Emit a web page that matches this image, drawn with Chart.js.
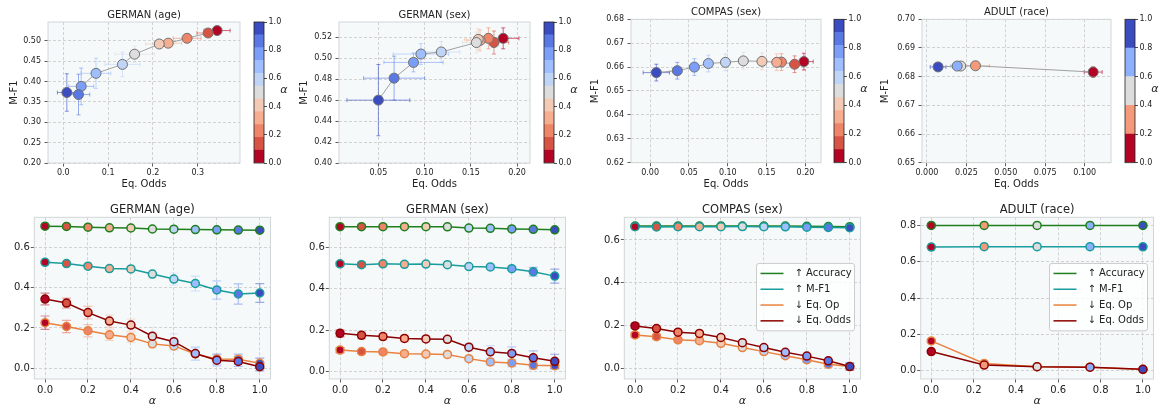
<!DOCTYPE html>
<html>
<head>
<meta charset="utf-8">
<script src="https://cdn.jsdelivr.net/npm/chart.js@4.4.1/dist/chart.umd.min.js"></script>
<style>
  body { margin: 0; background: #fff; width: 1159px; height: 408px; overflow: hidden; position: relative; }
  canvas { position: absolute; }
</style>
</head>
<body>
<script>
// alpha grids
const alpha11 = [0, 0.1, 0.2, 0.3, 0.4, 0.5, 0.6, 0.7, 0.8, 0.9, 1.0];
const alpha5 = [0, 0.25, 0.5, 0.75, 1.0];

// GERMAN (age)
const germanAgeAcc = [0.704, 0.703, 0.699, 0.696, 0.695, 0.690, 0.689, 0.687, 0.686, 0.685, 0.684];
const germanAgeMf1 = [0.525, 0.519, 0.506, 0.494, 0.492, 0.467, 0.442, 0.420, 0.388, 0.368, 0.373];
const germanAgeEqOp = [0.226, 0.207, 0.186, 0.166, 0.153, 0.121, 0.111, 0.071, 0.046, 0.045, 0.025];
const germanAgeEqOdds = [0.343, 0.323, 0.276, 0.234, 0.214, 0.159, 0.132, 0.073, 0.040, 0.034, 0.008];
const germanAgeAccErr = [0.006, 0.006, 0.006, 0.006, 0.006, 0.006, 0.006, 0.006, 0.006, 0.006, 0.006];
const germanAgeMf1Err = [0.005, 0.007, 0.008, 0.008, 0.010, 0.020, 0.030, 0.037, 0.045, 0.050, 0.046];
const germanAgeEqOpErr = [0.033, 0.030, 0.030, 0.028, 0.025, 0.020, 0.020, 0.030, 0.025, 0.025, 0.025];
const germanAgeEqOddsErr = [0.029, 0.025, 0.031, 0.030, 0.030, 0.044, 0.039, 0.033, 0.028, 0.025, 0.021];

// GERMAN (sex)
const germanSexAcc = [0.698, 0.698, 0.698, 0.698, 0.698, 0.697, 0.691, 0.690, 0.687, 0.685, 0.683];
const germanSexMf1 = [0.519, 0.515, 0.519, 0.517, 0.518, 0.515, 0.506, 0.504, 0.496, 0.481, 0.460];
const germanSexEqOp = [0.104, 0.097, 0.095, 0.087, 0.085, 0.083, 0.063, 0.047, 0.042, 0.031, 0.029];
const germanSexEqOdds = [0.185, 0.175, 0.169, 0.160, 0.158, 0.156, 0.118, 0.096, 0.088, 0.067, 0.050];
const germanSexAccErr = [0.006, 0.006, 0.006, 0.006, 0.006, 0.006, 0.006, 0.006, 0.006, 0.006, 0.006];
const germanSexMf1Err = [0.010, 0.011, 0.010, 0.010, 0.010, 0.010, 0.010, 0.010, 0.009, 0.021, 0.034];
const germanSexEqOpErr = [0.012, 0.010, 0.010, 0.010, 0.010, 0.010, 0.012, 0.015, 0.018, 0.018, 0.015];
const germanSexEqOddsErr = [0.017, 0.016, 0.015, 0.015, 0.015, 0.015, 0.020, 0.030, 0.032, 0.033, 0.034];

// COMPAS (sex)
const compasAcc = [0.665, 0.665, 0.665, 0.665, 0.665, 0.665, 0.665, 0.665, 0.664, 0.663, 0.662];
const compasMf1 = [0.6623, 0.6612, 0.6621, 0.6620, 0.6624, 0.6626, 0.6620, 0.6615, 0.6600, 0.6585, 0.6577];
const compasEqOp = [0.156, 0.148, 0.133, 0.129, 0.117, 0.097, 0.078, 0.059, 0.040, 0.019, 0.008];
const compasEqOdds = [0.198, 0.186, 0.169, 0.163, 0.144, 0.120, 0.097, 0.075, 0.057, 0.035, 0.008];
const compasAccErr = [0.004, 0.004, 0.004, 0.004, 0.004, 0.004, 0.004, 0.004, 0.004, 0.004, 0.004];
const compasMf1Err = [0.0035, 0.0035, 0.0035, 0.0035, 0.0035, 0.0035, 0.0035, 0.0035, 0.0035, 0.0035, 0.0035];
const compasEqOpErr = [0.010, 0.012, 0.010, 0.010, 0.010, 0.010, 0.010, 0.010, 0.012, 0.012, 0.015];
const compasEqOddsErr = [0.012, 0.006, 0.006, 0.006, 0.006, 0.006, 0.006, 0.006, 0.006, 0.006, 0.017];

// ADULT (race)
const adultAcc = [0.801, 0.801, 0.801, 0.801, 0.801];
const adultMf1 = [0.6816, 0.6838, 0.6837, 0.6837, 0.6834];
const adultEqOp = [0.164, 0.040, 0.022, 0.019, 0.007];
const adultEqOdds = [0.1054, 0.0308, 0.0215, 0.0192, 0.0071];
const adultAccErr = [0.002, 0.002, 0.002, 0.002, 0.002];
const adultMf1Err = [0.0018, 0.0012, 0.0012, 0.0012, 0.0012];
const adultEqOpErr = [0.008, 0.006, 0.004, 0.004, 0.003];
const adultEqOddsErr = [0.0057, 0.009, 0.004, 0.004, 0.005];

// tick labels
const germanAgeXTicks = [0.0, 0.1, 0.2, 0.3];
const germanAgeYTicks = [0.20, 0.25, 0.30, 0.35, 0.40, 0.45, 0.50];
const germanSexXTicks = [0.05, 0.10, 0.15, 0.20];
const germanSexYTicks = [0.40, 0.42, 0.44, 0.46, 0.48, 0.50, 0.52];
const compasXTicks = [0.00, 0.05, 0.10, 0.15, 0.20];
const compasYTicks = [0.62, 0.63, 0.64, 0.65, 0.66, 0.67, 0.68];
const adultXTicks = [0.000, 0.025, 0.050, 0.075, 0.100];
const adultYTicks = [0.65, 0.66, 0.67, 0.68, 0.69, 0.70];
const alphaTicks = [0.0, 0.2, 0.4, 0.6, 0.8, 1.0];
const lowerYTicks = [0.0, 0.2, 0.4, 0.6];
const adultLowerYTicks = [0.0, 0.2, 0.4, 0.6, 0.8];

const seriesLabels = ["↑ Accuracy", "↑ M-F1", "↓ Eq. Op", "↓ Eq. Odds"];
const seriesColors = ["#1f7f1f", "#189c9c", "#e8823e", "#8b0000"];

// coolwarm_r sampled at the alpha values
const colors11 = ["#b40426", "#d75344", "#ee8568", "#f7ad8f", "#f2cab6", "#dddddd",
  "#c0d4f5", "#9fbeff", "#7b9ef9", "#5978e3", "#3b4cc0"];
const colors5 = ["#b40426", "#f49a7b", "#dddddd", "#8db0fe", "#3b4cc0"];

Chart.defaults.font.family = "'DejaVu Sans', sans-serif";
Chart.defaults.color = "#222";

function rgba(hex, a) {
  const n = parseInt(hex.slice(1), 16);
  return "rgba(" + ((n >> 16) & 255) + "," + ((n >> 8) & 255) + "," + (n & 255) + "," + a + ")";
}

// background, frame, title, error bars, legend, colorbar label
const decor = {
  id: "decor",
  beforeDraw(chart, args, opts) {
    if (!opts.bg) return;
    const a = chart.chartArea;
    chart.ctx.save();
    chart.ctx.fillStyle = opts.bg;
    chart.ctx.fillRect(a.left, a.top, a.width, a.height);
    chart.ctx.restore();
  },
  beforeDatasetsDraw(chart) {
    const ctx = chart.ctx, a = chart.chartArea;
    const xs = chart.scales.x, ys = chart.scales.y;
    ctx.save();
    ctx.beginPath();
    ctx.rect(a.left, a.top, a.width, a.height);
    ctx.clip();
    chart.data.datasets.forEach((ds, di) => {
      if (!ds.errColors) return;
      const meta = chart.getDatasetMeta(di);
      const cap = ds.cap;
      meta.data.forEach((pt, j) => {
        const d = ds.data[j];
        ctx.strokeStyle = ds.errColors[j];
        ctx.lineWidth = ds.errWidth;
        ctx.beginPath();
        if (ds.yErr) {
          const y1 = ys.getPixelForValue(d.y - ds.yErr[j]);
          const y2 = ys.getPixelForValue(d.y + ds.yErr[j]);
          ctx.moveTo(pt.x, y1); ctx.lineTo(pt.x, y2);
          ctx.moveTo(pt.x - cap, y1); ctx.lineTo(pt.x + cap, y1);
          ctx.moveTo(pt.x - cap, y2); ctx.lineTo(pt.x + cap, y2);
        }
        if (ds.xErr) {
          const x1 = xs.getPixelForValue(d.x - ds.xErr[j]);
          const x2 = xs.getPixelForValue(d.x + ds.xErr[j]);
          ctx.moveTo(x1, pt.y); ctx.lineTo(x2, pt.y);
          ctx.moveTo(x1, pt.y - cap); ctx.lineTo(x1, pt.y + cap);
          ctx.moveTo(x2, pt.y - cap); ctx.lineTo(x2, pt.y + cap);
        }
        ctx.stroke();
      });
    });
    ctx.restore();
  },
  afterDraw(chart, args, opts) {
    const ctx = chart.ctx, a = chart.chartArea;
    ctx.save();
    if (opts.frame) {
      ctx.strokeStyle = opts.frame;
      ctx.lineWidth = opts.frameWidth || 1;
      ctx.strokeRect(a.left, a.top, a.width, a.height);
    }
    if (opts.title) {
      ctx.fillStyle = "#222";
      ctx.font = opts.titleSize + "px 'DejaVu Sans'";
      ctx.textAlign = "center";
      ctx.textBaseline = "middle";
      ctx.fillText(opts.title, (a.left + a.right) / 2, opts.titleY);
    }
    if (opts.cbLabel) {
      ctx.fillStyle = "#222";
      ctx.font = "italic 11px 'DejaVu Sans'";
      ctx.textAlign = "center";
      ctx.textBaseline = "middle";
      ctx.fillText(opts.cbLabel, a.right + 20, (a.top + a.bottom) / 2 - 2);
    }
    if (opts.legend) {
      const bw = 98, bh = 67.4, r = 2.5;
      const bx = a.right - 6 - bw, by = (a.top + a.bottom) / 2 - bh / 2 - 1;
      ctx.beginPath();
      ctx.moveTo(bx + r, by);
      ctx.arcTo(bx + bw, by, bx + bw, by + bh, r);
      ctx.arcTo(bx + bw, by + bh, bx, by + bh, r);
      ctx.arcTo(bx, by + bh, bx, by, r);
      ctx.arcTo(bx, by, bx + bw, by, r);
      ctx.closePath();
      ctx.fillStyle = "rgba(255,255,255,0.8)";
      ctx.fill();
      ctx.strokeStyle = "#cccccc";
      ctx.lineWidth = 1;
      ctx.stroke();
      ctx.font = "10px 'DejaVu Sans'";
      ctx.textAlign = "left";
      ctx.textBaseline = "middle";
      opts.legend.forEach((label, i) => {
        const y = by + 10 + i * 15.8;
        ctx.strokeStyle = seriesColors[i];
        ctx.lineWidth = 1.5;
        ctx.beginPath();
        ctx.moveTo(bx + 4, y);
        ctx.lineTo(bx + 27, y);
        ctx.stroke();
        ctx.fillStyle = "#222";
        ctx.fillText(label, bx + 38, y);
      });
    }
    ctx.restore();
  },
};
Chart.register(decor);

function makeCanvas(L, T, W, H) {
  const c = document.createElement("canvas");
  c.width = W;
  c.height = H;
  c.style.left = L + "px";
  c.style.top = T + "px";
  c.style.width = W + "px";
  c.style.height = H + "px";
  document.body.appendChild(c);
  return c;
}

function linAxis(min, max, ticks, dec, size, pad, fixed, title) {
  return {
    type: "linear",
    min: min,
    max: max,
    afterBuildTicks: (s) => { s.ticks = ticks.map((v) => ({ value: v })); },
    afterFit: (s) => { if (s.isHorizontal()) s.height = fixed; else s.width = fixed; },
    ticks: { font: { size: size }, padding: pad, color: "#222", autoSkip: false, maxRotation: 0,
      callback: (v) => Number(v).toFixed(dec) },
    grid: { color: "#c8c8c8", lineWidth: 0.8, drawTicks: true, tickLength: 3.5,
      tickColor: "#333", tickWidth: 0.8, tickBorderDash: [] },
    border: { display: false, dash: [3, 2] },
    title: title,
  };
}

function colorbar(L, W, top, bottom, left, right, colors) {
  const T = 0, H = 200;
  const cv = makeCanvas(L, T, W, H);
  const n = colors.length;
  new Chart(cv, {
    type: "bar",
    data: {
      labels: ["α"],
      datasets: colors.map((c, i) => ({
        data: [[i / n, (i + 1) / n]], backgroundColor: c, borderWidth: 0,
        grouped: false, barPercentage: 1, categoryPercentage: 1,
      })),
    },
    options: {
      responsive: false, animation: false, devicePixelRatio: 1,
      layout: { padding: { left: left - L, top: top - T, bottom: T + H - bottom, right: 0 } },
      plugins: { legend: { display: false }, tooltip: { enabled: false },
        decor: { frame: "#222", frameWidth: 0.8, cbLabel: "α" } },
      scales: {
        x: { display: false },
        y: {
          type: "linear", position: "right", min: 0, max: 1,
          afterBuildTicks: (s) => { s.ticks = alphaTicks.map((v) => ({ value: v })); },
          afterFit: (s) => { s.width = L + W - right; },
          ticks: { font: { size: 8 }, padding: 1.5, color: "#222", callback: (v) => Number(v).toFixed(1) },
          grid: { drawOnChartArea: false, tickLength: 3, tickColor: "#222", tickWidth: 0.8 },
          border: { display: false },
        },
      },
    },
  });
}

function scatterPanel(p) {
  const T = 0, H = 200;
  const cv = makeCanvas(p.L, T, p.W, H);
  const pts = p.xs.map((x, i) => ({ x: x, y: p.ys[i] }));
  new Chart(cv, {
    type: "scatter",
    data: {
      datasets: [
        { data: pts, showLine: true, borderColor: "#a0a0a0", borderWidth: 1, pointRadius: 0, order: 2 },
        { data: pts, pointRadius: 5, pointHoverRadius: 5, pointBackgroundColor: p.colors,
          pointBorderColor: "#707070", pointBorderWidth: 1,
          xErr: p.xErr, yErr: p.yErr, errColors: p.colors.map((c) => rgba(c, 0.6)),
          cap: 2, errWidth: 1, order: 1 },
      ],
    },
    options: {
      responsive: false, animation: false, devicePixelRatio: 1,
      layout: { padding: { top: p.top - T, right: p.L + p.W - p.right, left: 0, bottom: 0 } },
      plugins: { legend: { display: false }, tooltip: { enabled: false },
        decor: { bg: "#f5f9fa", frame: "#d2d6d8", title: p.title, titleY: p.titleY, titleSize: 10 } },
      scales: {
        x: linAxis(p.x[0], p.x[1], p.xTicks, p.xDec, 8, 1.7, H - p.bottom,
          { display: true, text: "Eq. Odds", font: { size: 10 }, color: "#222", padding: { top: 0, bottom: 10 } }),
        y: linAxis(p.y[0], p.y[1], p.yTicks, 2, 8, 3.5, p.left - p.L,
          { display: true, text: "M-F1", font: { size: 10 }, color: "#222", padding: { top: p.yTitleX - p.L - 6, bottom: 0 } }),
      },
    },
  });
  colorbar(p.cb[0] - 2, p.cbW, p.top, p.bottom, p.cb[0], p.cb[1], p.colors);
}

function linePanel(p) {
  const T = 200, H = 208;
  const cv = makeCanvas(p.L, T, p.W, H);
  const datasets = p.series.map((vals, k) => ({
    data: p.alphas.map((a, i) => ({ x: a, y: vals[i] })),
    showLine: true, borderColor: seriesColors[k], borderWidth: 1.5,
    pointRadius: 4, pointHoverRadius: 4, pointBackgroundColor: p.colors,
    pointBorderColor: seriesColors[k], pointBorderWidth: 1.5,
    yErr: p.errs[k], errColors: p.colors.map((c) => rgba(c, 0.45)), cap: 4.5, errWidth: 1.2,
    order: 4 - k,
  }));
  new Chart(cv, {
    type: "scatter",
    data: { datasets: datasets },
    options: {
      responsive: false, animation: false, devicePixelRatio: 1,
      layout: { padding: { top: p.top - T, right: p.L + p.W - p.right, left: 0, bottom: 0 } },
      plugins: { legend: { display: false }, tooltip: { enabled: false },
        decor: { bg: "#f5f9fa", frame: "#d2d6d8", title: p.title, titleY: 10, titleSize: 11.5,
          legend: p.legend ? seriesLabels : null } },
      scales: {
        x: linAxis(-0.05, 1.05, alphaTicks, 1, 10, 2.2, H - (p.bottom - T),
          { display: true, text: "α", font: { size: 11, style: "italic" }, color: "#222", padding: { top: 0, bottom: 0 } }),
        y: linAxis(p.y[0], p.y[1], p.yTicks, 1, 10, 1, p.left - p.L, { display: false }),
      },
    },
  });
}

scatterPanel({ L: 0, W: 246, left: 48, right: 242, top: 22, bottom: 163, cb: [254, 264], cbW: 45,
  title: "GERMAN (age)", titleY: 15, yTitleX: 14, x: [-0.034, 0.394], y: [0.2, 0.546],
  xTicks: germanAgeXTicks, yTicks: germanAgeYTicks, xDec: 1,
  xs: germanAgeEqOdds, ys: germanAgeMf1, xErr: germanAgeEqOddsErr, yErr: germanAgeMf1Err, colors: colors11 });
scatterPanel({ L: 291, W: 245, left: 339, right: 532, top: 22, bottom: 163, cb: [544, 554], cbW: 45,
  title: "GERMAN (sex)", titleY: 15, yTitleX: 304, x: [0.0074, 0.214], y: [0.40, 0.5346],
  xTicks: germanSexXTicks, yTicks: germanSexYTicks, xDec: 2,
  xs: germanSexEqOdds, ys: germanSexMf1, xErr: germanSexEqOddsErr, yErr: germanSexMf1Err, colors: colors11 });
scatterPanel({ L: 583, W: 244, left: 631, right: 823, top: 19.3, bottom: 162.7, cb: [833.5, 843.5], cbW: 45,
  title: "COMPAS (sex)", titleY: 12.3, yTitleX: 595, x: [-0.0246, 0.22], y: [0.62, 0.68],
  xTicks: compasXTicks, yTicks: compasYTicks, xDec: 2,
  xs: compasEqOdds, ys: compasMf1, xErr: compasEqOddsErr, yErr: compasMf1Err, colors: colors11 });
scatterPanel({ L: 874, W: 243, left: 922, right: 1113, top: 19.3, bottom: 162.7, cb: [1125, 1135], cbW: 36,
  title: "ADULT (race)", titleY: 12.3, yTitleX: 885, x: [-0.0031, 0.1167], y: [0.65, 0.70],
  xTicks: adultXTicks, yTicks: adultYTicks, xDec: 3,
  xs: adultEqOdds, ys: adultMf1, xErr: adultEqOddsErr, yErr: adultMf1Err, colors: colors5 });

linePanel({ L: 0, W: 276, left: 34.3, right: 272.7, top: 217.3, bottom: 379, title: "GERMAN (age)",
  y: [-0.053, 0.748], yTicks: lowerYTicks, alphas: alpha11, colors: colors11, legend: false,
  series: [germanAgeAcc, germanAgeMf1, germanAgeEqOp, germanAgeEqOdds],
  errs: [germanAgeAccErr, germanAgeMf1Err, germanAgeEqOpErr, germanAgeEqOddsErr] });
linePanel({ L: 295, W: 276, left: 329.3, right: 568.3, top: 217.3, bottom: 379, title: "GERMAN (sex)",
  y: [-0.035, 0.743], yTicks: lowerYTicks, alphas: alpha11, colors: colors11, legend: false,
  series: [germanSexAcc, germanSexMf1, germanSexEqOp, germanSexEqOdds],
  errs: [germanSexAccErr, germanSexMf1Err, germanSexEqOpErr, germanSexEqOddsErr] });
linePanel({ L: 590, W: 276, left: 624.3, right: 863.3, top: 217.3, bottom: 379, title: "COMPAS (sex)",
  y: [-0.05, 0.706], yTicks: lowerYTicks, alphas: alpha11, colors: colors11, legend: true,
  series: [compasAcc, compasMf1, compasEqOp, compasEqOdds],
  errs: [compasAccErr, compasMf1Err, compasEqOpErr, compasEqOddsErr] });
linePanel({ L: 886, W: 273, left: 920.7, right: 1158.5, top: 217.3, bottom: 379, title: "ADULT (race)",
  y: [-0.046, 0.846], yTicks: adultLowerYTicks, alphas: alpha5, colors: colors5, legend: true,
  series: [adultAcc, adultMf1, adultEqOp, adultEqOdds],
  errs: [adultAccErr, adultMf1Err, adultEqOpErr, adultEqOddsErr] });
</script>
</body>
</html>
